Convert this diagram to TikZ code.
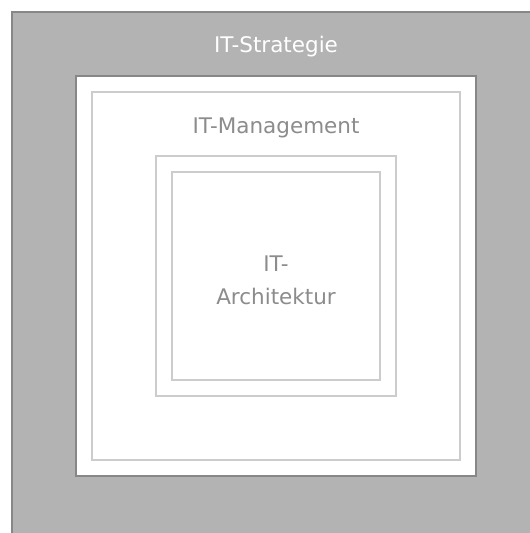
\documentclass[tikz,border=0pt]{standalone}
\usepackage{fontspec}
\setmainfont{DejaVu Sans}
\begin{document}
\begin{tikzpicture}[x=1pt,y=-1pt,
  layer/.style={line width=1.5pt},
  ring/.style={draw=ringgray,line width=2pt},
  lbl/.style={font=\fontsize{21.5}{33}\selectfont,align=center,inner sep=0pt}]
\definecolor{bggray}{HTML}{B3B3B3}
\definecolor{edgegray}{HTML}{878787}
\definecolor{ringgray}{HTML}{CCCCCC}
\definecolor{textgray}{HTML}{8C8C8C}
\useasboundingbox (0,0) rectangle (530,533);
% strategy layer
\path[fill=bggray,draw=edgegray,layer] (12,12) rectangle (532,536);
\node[lbl,text=white] (strat) at (276,47) {IT-Strategie};
% management layer
\path[fill=white,draw=edgegray,layer] (76,76) rectangle (476,476);
\draw[ring] (92,92) rectangle (460,460);
\node[lbl,text=textgray] (mgmt) at (276,128) {IT-Management};
% architecture core
\draw[ring] (156,156) rectangle (396,396);
\draw[ring] (172,172) rectangle (380,380);
\node[lbl,text=textgray] (arch) at (276,280) {IT-\\Architektur};
\end{tikzpicture}
\end{document}
